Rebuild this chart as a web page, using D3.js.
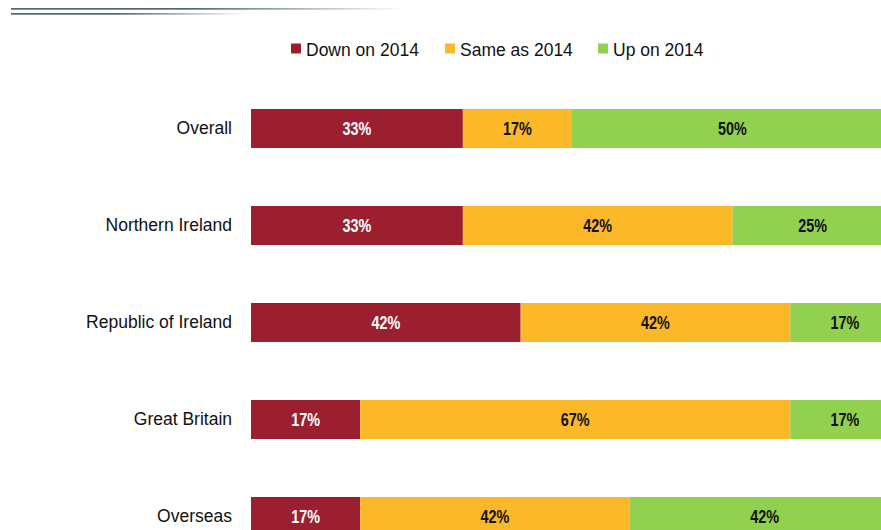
<!DOCTYPE html>
<html>
<head>
<meta charset="utf-8">
<script src="https://cdn.jsdelivr.net/npm/d3@7"></script>
<style>
  html, body { margin: 0; padding: 0; background: #fff; }
  svg { display: block; }
</style>
</head>
<body>
<svg id="chart" width="881" height="530"></svg>
<script>
// Change in activity compared with 2014, by market
const categories = ["Overall", "Northern Ireland", "Republic of Ireland", "Great Britain", "Overseas"];
const seriesNames = ["Down on 2014", "Same as 2014", "Up on 2014"];
const downValues = [33, 33, 42, 17, 17];
const sameValues = [17, 42, 42, 67, 42];
const upValues   = [50, 25, 17, 17, 42];
const colors = ["#9b1f2f", "#fbb829", "#92d050"];
const labelColors = ["#ffffff", "#111111", "#111111"];

const svg = d3.select("#chart");

// Header rules fading to white
const defs = svg.append("defs");
function fadeGradient(id, solidStop) {
  const g = defs.append("linearGradient").attr("id", id)
    .attr("x1", "0%").attr("x2", "100%").attr("y1", "0%").attr("y2", "0%");
  g.append("stop").attr("offset", "0%").attr("stop-color", "#4e6a70");
  g.append("stop").attr("offset", solidStop).attr("stop-color", "#4e6a70");
  g.append("stop").attr("offset", "100%").attr("stop-color", "#4e6a70").attr("stop-opacity", 0);
}
fadeGradient("fadeA", "45%");
fadeGradient("fadeB", "45%");
svg.append("rect").attr("x", 11).attr("y", 8).attr("width", 395).attr("height", 1.7).attr("fill", "url(#fadeA)");
svg.append("rect").attr("x", 11).attr("y", 13).attr("width", 235).attr("height", 1.7).attr("fill", "url(#fadeB)");

// Legend
const legendItems = [
  { x: 291, name: seriesNames[0], color: colors[0] },
  { x: 445, name: seriesNames[1], color: colors[1] },
  { x: 598, name: seriesNames[2], color: colors[2] }
];
const legend = svg.append("g");
legendItems.forEach(d => {
  legend.append("rect").attr("x", d.x).attr("y", 43.5).attr("width", 10).attr("height", 10).attr("fill", d.color);
  legend.append("text").attr("x", d.x + 15).attr("y", 55.5)
    .attr("font-family", "'Liberation Sans', Arial, sans-serif")
    .attr("font-size", 17.5).attr("fill", "#111")
    .text(d.name);
});

// Scales
const x = d3.scaleLinear().domain([0, 100]).range([251, 893]);
const y = d3.scaleBand().domain(categories).range([109, 536]).paddingInner(58 / 97).paddingOuter(0);

const rows = categories.map((c, i) => {
  const vals = [downValues[i], sameValues[i], upValues[i]];
  let acc = 0;
  return { category: c, segments: vals.map((v, k) => { const s = { k, start: acc, value: v }; acc += v; return s; }) };
});

const rowG = svg.append("g").selectAll("g").data(rows).join("g")
  .attr("transform", d => `translate(0,${y(d.category)})`);

rowG.selectAll("rect").data(d => d.segments).join("rect")
  .attr("x", d => x(d.start))
  .attr("width", d => x(d.start + d.value) - x(d.start))
  .attr("y", 0)
  .attr("height", y.bandwidth())
  .attr("fill", d => colors[d.k]);

// Value labels in a condensed bold face
rowG.selectAll("text.val").data(d => d.segments).join("text")
  .attr("class", "val")
  .attr("transform", d => `translate(${(x(d.start) + x(d.start + d.value)) / 2},${y.bandwidth() / 2}) scale(0.8,1)`)
  .attr("dy", "0.36em")
  .attr("text-anchor", "middle")
  .attr("font-family", "'Liberation Sans', Arial, sans-serif")
  .attr("font-weight", "bold")
  .attr("font-size", 18)
  .attr("fill", d => labelColors[d.k])
  .text(d => d.value + "%");

// Category axis labels
const yAxis = d3.axisLeft(y).tickSize(0).tickPadding(19);
const axisG = svg.append("g").attr("transform", `translate(251,0)`).call(yAxis);
axisG.select(".domain").remove();
axisG.selectAll("text")
  .attr("font-family", "'Liberation Sans', Arial, sans-serif")
  .attr("font-size", 17.5)
  .attr("fill", "#111");
</script>
</body>
</html>
